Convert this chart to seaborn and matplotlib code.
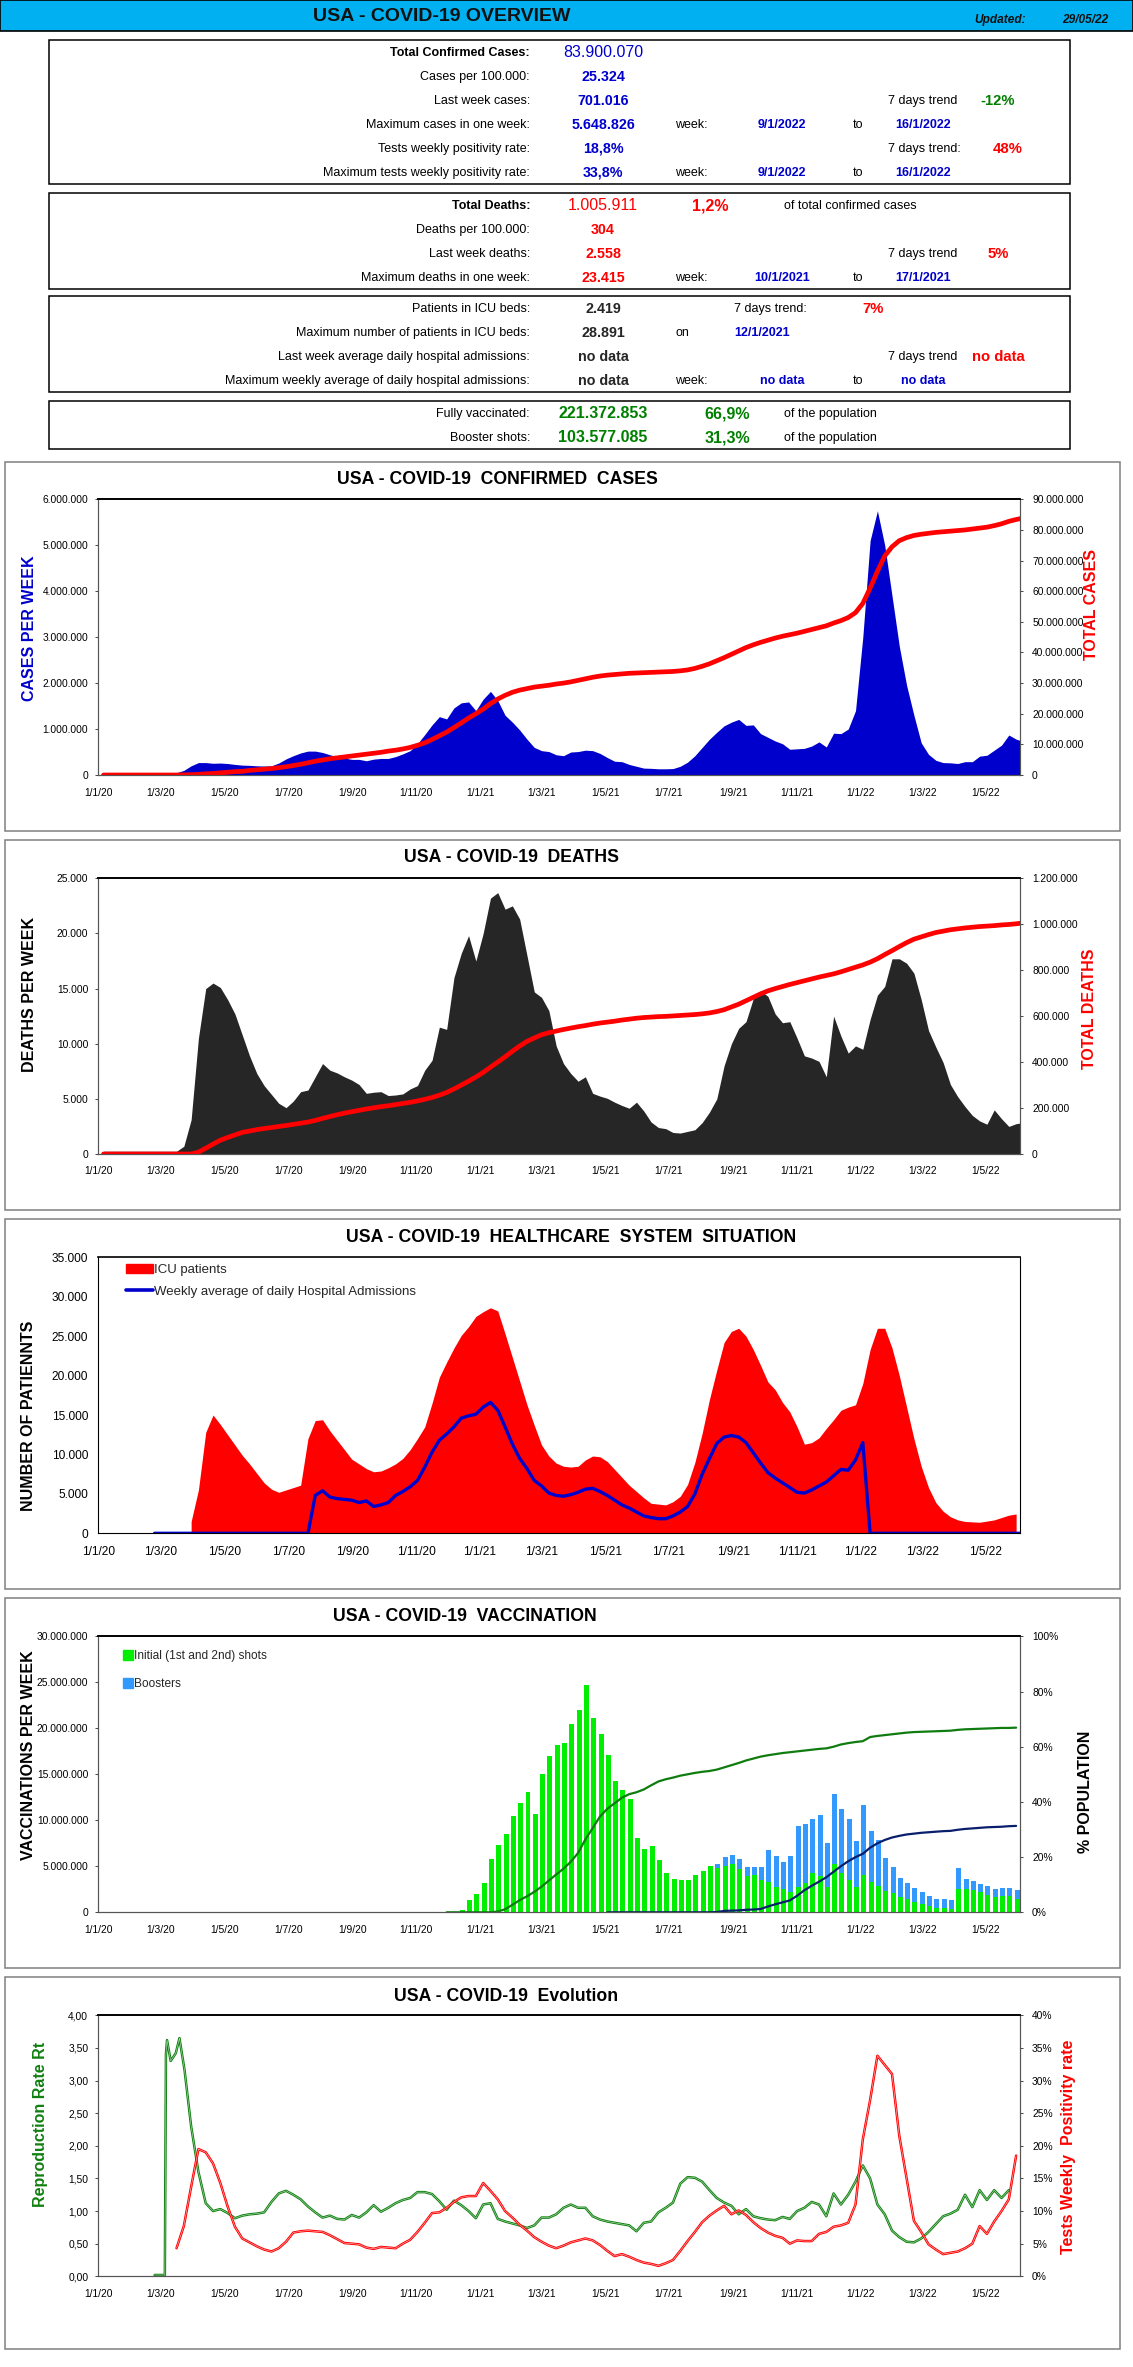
import numpy as np
import pandas as pd
import seaborn as sns
import matplotlib
matplotlib.use('Agg')
import matplotlib.pyplot as plt
import matplotlib.dates as mdates
from matplotlib.patches import Rectangle, Patch
from matplotlib.lines import Line2D

W, H = 1133, 2367

#### tick labels, same on every chart
tick_labels = ['1/1/20', '1/3/20', '1/5/20', '1/7/20', '1/9/20', '1/11/20', '1/1/21', '1/3/21', '1/5/21',
               '1/7/21', '1/9/21', '1/11/21', '1/1/22', '1/3/22', '1/5/22']

#### weekly values, first week 6 jan 2020
cases_k = [50, 50, 50, 50, 50, 50, 50, 50, 50, 50,
           50, 100, 200, 270, 270, 255, 260, 250, 230, 215,
           210, 200, 195, 200, 260, 350, 420, 480, 520, 520,
           490, 440, 400, 370, 340, 340, 310, 345, 360, 360,
           400, 460, 530, 680, 880, 1090, 1270, 1220, 1460, 1570,
           1590, 1400, 1650, 1820, 1620, 1300, 1150, 980, 780, 600,
           530, 510, 440, 420, 500, 510, 540, 530, 470, 380,
           300, 290, 230, 190, 150, 145, 135, 135, 140, 190,
           280, 420, 600, 780, 930, 1070, 1150, 1210, 1080, 1090,
           900, 820, 740, 680, 560, 570, 580, 630, 720, 610,
           910, 900, 1000, 1400, 3000, 5100, 5750, 5000, 3900, 2800,
           1950, 1300, 700, 450, 320, 270, 265, 250, 290, 290,
           410, 430, 540, 650, 870, 780, 730]
total_cases_m = [0, 0, 0, 0, 0, 0, 0, 0, 0, 0,
                 0, .05, .1, .2, .4, .5, .7, .9, 1.1, 1.2,
                 1.5, 1.7, 1.9, 2.1, 2.4, 2.7, 3.1, 3.5, 4.0, 4.5,
                 4.9, 5.3, 5.6, 5.9, 6.2, 6.5, 6.8, 7.1, 7.4, 7.8,
                 8.1, 8.5, 9.0, 9.7, 10.5, 11.6, 12.8, 14, 15.5, 17,
                 18.6, 20, 21.5, 23.3, 24.8, 26, 27, 27.7, 28.2, 28.7,
                 29, 29.3, 29.7, 30, 30.4, 30.9, 31.4, 31.9, 32.3, 32.6,
                 32.8, 33, 33.2, 33.3, 33.4, 33.5, 33.6, 33.7, 33.8, 34,
                 34.3, 34.8, 35.5, 36.3, 37.3, 38.3, 39.4, 40.5, 41.6, 42.5,
                 43.3, 44, 44.7, 45.3, 45.8, 46.3, 46.9, 47.5, 48.1, 48.7,
                 49.6, 50.4, 51.4, 53, 56, 61, 66.5, 71.5, 74.5, 76.5,
                 77.5, 78.2, 78.6, 78.9, 79.2, 79.4, 79.6, 79.8, 80, 80.3,
                 80.6, 80.9, 81.4, 82, 82.8, 83.4, 83.9]

deaths = [250, 250, 250, 250, 250, 250, 250, 250, 250, 250,
          250, 700, 3100, 10500, 15000, 15500, 15100, 14000, 12700, 10800,
          8900, 7300, 6200, 5400, 4600, 4200, 4800, 5650, 5800, 7000,
          8200, 7600, 7350, 7000, 6700, 6300, 5500, 5600, 5650, 5300,
          5350, 5450, 5900, 6200, 7600, 8500, 11500, 11300, 16000, 18200,
          19800, 17500, 20000, 23200, 23700, 22200, 22500, 21300, 18000, 14700,
          14200, 13000, 9800, 8200, 7300, 6600, 7000, 5500, 5250, 5050,
          4700, 4400, 4150, 4700, 3900, 2900, 2400, 2300, 1950, 1900,
          2050, 2200, 2850, 3800, 5000, 8000, 10000, 11400, 12000, 14100,
          14800, 14300, 12700, 11900, 12000, 10500, 8900, 8700, 8400, 7000,
          12500, 10700, 9150, 9800, 9500, 12200, 14400, 15200, 17700, 17700,
          17300, 16400, 14000, 11200, 9700, 8300, 6300, 5200, 4300, 3500,
          3000, 2700, 4000, 3200, 2500, 2750, 2850]
total_deaths_k = [0, 0, 0, 0, 0, 0, 0, 0, 0, 0,
                  0, 0, 0, 8, 25, 43, 60, 72, 83, 94,
                  100, 106, 111, 115, 120, 124, 129, 134, 139, 146,
                  155, 163, 171, 178, 184, 190, 196, 201, 206, 210,
                  215, 220, 225, 231, 238, 246, 256, 268, 283, 300,
                  317, 335, 355, 378, 400, 423, 447, 470, 490, 505,
                  519, 528, 535, 542, 548, 554, 559, 565, 570, 574,
                  578, 583, 587, 591, 594, 596, 598, 599, 601, 603,
                  605, 607, 610, 614, 620, 628, 640, 652, 667, 682,
                  697, 710, 720, 729, 738, 746, 754, 762, 770, 777,
                  784, 793, 803, 813, 823, 835, 850, 868, 885, 903,
                  920, 935, 945, 955, 964, 970, 976, 980, 984, 987,
                  990, 992, 994, 997, 999, 1002, 1006]

#### from week 12
icu_k = [1.5, 5.5, 12.8, 15, 13.8, 12.5, 11.2, 9.9,
         8.8, 7.6, 6.4, 5.6, 5.2, 5.5, 5.8, 6.1, 12, 14.3,
         14.4, 13, 11.8, 10.6, 9.4, 8.8, 8.2, 7.8, 7.9, 8.3,
         8.8, 9.5, 10.6, 12, 13.5, 16.5, 19.8, 21.7, 23.5, 25.1,
         26.2, 27.5, 28.1, 28.6, 28.2, 25.3, 22.3, 19.3, 16.3, 13.7,
         11.2, 9.8, 8.9, 8.5, 8.4, 8.5, 9.3, 9.8, 9.7, 9.1,
         8.1, 7.1, 6.1, 5.3, 4.5, 3.8, 3.7, 3.6, 4, 4.7,
         6.2, 9, 12.7, 17, 20.7, 24.2, 25.6, 26, 25, 23.3,
         21.3, 19.2, 18.2, 16.6, 15.4, 13.5, 11.3, 11.5, 12.1, 13.3,
         14.4, 15.6, 16, 16.3, 19, 23.3, 26, 26, 23.5, 20,
         16, 12, 8.5, 5.8, 3.9, 2.8, 2.1, 1.7, 1.5, 1.45,
         1.4, 1.55, 1.7, 2, 2.3, 2.45]
#### from week 7
hospital_k = [0, 0, 0, 0, 0, 0, 0, 0, 0, 0, 0, 0, 0, 0, 0, 0, 0, 0, 0, 0, 0, 0,
              4.8, 5.4, 4.6, 4.4, 4.3, 4.2, 3.9, 4.1, 3.4, 3.6, 3.9,
              4.8, 5.3, 5.9, 6.7, 8.4, 10.3, 11.8, 12.6, 13.5, 14.6,
              14.9, 15.1, 16, 16.6, 15.6, 13.5, 11.3, 9.5, 8.2, 6.7,
              6, 5.1, 4.8, 4.7, 4.9, 5.2, 5.6, 5.7, 5.3, 4.8,
              4.2, 3.6, 3.2, 2.7, 2.2, 2, 1.85, 1.85, 2.2, 2.7,
              3.4, 5, 7.5, 9.5, 11.4, 12.2, 12.4, 12.2, 11.5, 10.2,
              8.9, 7.7, 7, 6.4, 5.8, 5.2, 5.1, 5.5, 6, 6.5,
              7.3, 8.1, 8, 9.3, 11.5, 0, 0, 0, 0, 0,
              0, 0, 0, 0, 0, 0, 0, 0, 0, 0, 0, 0, 0, 0, 0, 0, 0, 0, 0, 0, 0]

#### from week 49
initial_m = [.25, 1.3, 2, 3.2, 5.8, 7.3, 8.5, 10.5, 11.85, 13.1, 10.7,
             15, 17, 18.2, 18.4, 20.5, 22, 24.7, 21.1, 19.4, 17.1,
             14.3, 13.3, 12.3, 8.1, 6.9, 7.2, 5.7, 4.3, 3.6, 3.5,
             3.5, 4.05, 4.5, 5, 4.85, 5, 5.25, 4.7, 4, 4.05,
             3.5, 3.3, 2.8, 2.5, 2.25, 2.7, 3.15, 4.25, 3.9, 2.8,
             5.3, 4.25, 3.5, 2.7, 4.05, 3.25, 2.9, 2.3, 2.05, 1.7,
             1.45, 1.1, .9, .7, .5, .5, .35, 2.5, 2.5, 2.45,
             2.2, 1.9, 1.65, 1.8, 1.8, 1.45]
#### initial plus boosters, from week 84
with_boosters_m = [5.25, 6, 6.2, 5.8, 4.9, 4.9, 4.9, 6.8, 6.1, 5.5, 6.1,
                   9.4, 9.6, 10.15, 10.6, 7.5, 12.85, 11.2, 10.15, 7.75, 11.65,
                   8.85, 7.85, 5.9, 4.9, 3.7, 3.2, 2.65, 2.2, 1.8, 1.45,
                   1.45, 1.35, 4.8, 3.6, 3.4, 3.1, 2.85, 2.55, 2.65, 2.65, 2.4]
#### from week 47
fully_pct = [0, 0, 0, 0, 0, 0, 0, .3, 1.1, 2.7, 4.4, 5.8, 7.4,
             9.3, 11.5, 13.7, 15.8, 18.3, 21.5, 26.4, 30.5, 34.7, 37.5,
             39.5, 41.5, 42.8, 43.5, 44.5, 46, 47.4, 48.2, 48.8, 49.5,
             50, 50.5, 50.9, 51.2, 51.7, 52.5, 53.3, 54.1, 55, 55.7,
             56.4, 56.9, 57.3, 57.7, 58, 58.3, 58.6, 58.9, 59.2, 59.4,
             60, 60.8, 61.3, 61.7, 62, 63.5, 63.9, 64.2, 64.5, 64.8,
             65.1, 65.3, 65.4, 65.5, 65.6, 65.7, 65.8, 66.1, 66.3, 66.4,
             66.5, 66.6, 66.7, 66.8, 66.8, 66.9]
#### from week 69
booster_pct = [0, 0, 0, 0, 0, 0, 0, 0, 0, 0, 0, 0, 0, 0, 0,
               .1, .5, .6, .7, .9, 1, 1.2, 2.1, 2.9, 3.6, 4.3,
               6, 8, 9.6, 11.1, 12.7, 14.7, 16.7, 18.5, 20, 21.2,
               23.4, 25, 26.2, 27.1, 27.7, 28.2, 28.5, 28.8, 29, 29.2,
               29.4, 29.5, 29.9, 30.2, 30.4, 30.6, 30.8, 30.9, 31, 31.2, 31.3]

#### Rt jumps inside a week at the start so those have their own week numbers
rt_head_week = [7, 8.4, 8.55, 8.7, 9.2, 9.9, 10.4, 11.1]
rt_head = [.02, .02, 3.4, 3.62, 3.3, 3.42, 3.65, 3.16]
#### from week 12
rt = [2.3, 1.6, 1.12, 1, 1.03, .97, .89, .93,
      .95, .96, .98, 1.14, 1.27, 1.31, 1.25, 1.18, 1.07, .98,
      .9, .93, .88, .87, .94, .9, .98, 1.09, .99, 1.05,
      1.12, 1.17, 1.2, 1.29, 1.29, 1.26, 1.15, 1.02, 1.16, 1.09,
      1, .89, 1.1, 1.12, .88, .84, .81, .78, .74, .78,
      .9, .9, .95, 1.05, 1.1, 1.05, 1.05, .92, .87, .84,
      .82, .8, .78, .69, .82, .84, .98, 1.05, 1.13, 1.42,
      1.52, 1.51, 1.45, 1.32, 1.2, 1.13, 1.08, .95, 1.03, .92,
      .89, .87, .86, .91, .88, 1, 1.05, 1.14, 1.1, .92,
      1.27, 1.1, 1.25, 1.45, 1.7, 1.5, 1.1, .95, .7, .6,
      .53, .52, .58, .68, .8, .92, .96, 1.02, 1.25, 1.06,
      1.32, 1.17, 1.32, 1.2, 1.32]
#### from week 10
positivity = [4.3, 7.7, 13.7, 19.5, 19, 17.3, 14.3, 10.7, 7.6, 5.8,
              5.2, 4.6, 4.1, 3.8, 4.3, 5.3, 6.7, 6.9, 7, 6.9,
              6.8, 6.3, 5.7, 5.1, 5, 4.9, 4.4, 4.2, 4.5, 4.4,
              4.3, 5, 5.6, 6.8, 8.2, 9.7, 9.8, 10.5, 11.4, 12.1,
              12.3, 12.3, 14.3, 13.1, 11.8, 10, 9, 7.9, 7, 6,
              5.3, 4.7, 4.3, 4.7, 5.2, 5.5, 5.8, 5.5, 4.8, 3.9,
              3.1, 3.4, 3, 2.5, 2.1, 1.9, 1.6, 2, 2.5, 3.9,
              5.4, 6.8, 8.3, 9.3, 10.1, 10.8, 9.5, 10.1, 9.4, 8.3,
              7.4, 6.7, 6.2, 5.9, 5, 5.5, 5.4, 5.4, 6.5, 6.8,
              7.6, 7.8, 8.2, 11, 21, 27, 33.8, 32.4, 31, 21.5,
              15, 8.5, 6.8, 4.9, 4.1, 3.4, 3.6, 3.8, 4.3, 5,
              7.7, 6.5, 8.4, 10, 11.8, 18.5]

#### summary table, (text, x px, y px, align, colour, size, bold)
BLUE = '#0000CC'
RED = '#FF0000'
GREEN = '#008000'
BLK = '#000000'
LAB = 9
VAL = 10.3
BIG = 11.5
DAT = 9
TRD = 10.7
table_rows = [
    ('Total Confirmed Cases:', 530, 52.7, 'right', BLK, LAB, True),
    ('83.900.070', 603, 52.7, 'center', BLUE, BIG, False),
    ('Cases per 100.000:', 530, 76.7, 'right', BLK, LAB, False),
    ('25.324', 603, 76.7, 'center', BLUE, VAL, True),
    ('Last week cases:', 530, 100.7, 'right', BLK, LAB, False),
    ('701.016', 603, 100.7, 'center', BLUE, VAL, True),
    ('7 days trend', 888, 100.7, 'left', BLK, LAB, False),
    ('-12%', 998, 100.7, 'center', GREEN, TRD, True),
    ('Maximum cases in one week:', 530, 124.7, 'right', BLK, LAB, False),
    ('5.648.826', 603, 124.7, 'center', BLUE, VAL, True),
    ('week:', 675, 124.7, 'left', BLK, LAB, False),
    ('9/1/2022', 782, 124.7, 'center', BLUE, DAT, True),
    ('to', 853, 124.7, 'left', BLK, LAB, False),
    ('16/1/2022', 923, 124.7, 'center', BLUE, DAT, True),
    ('Tests weekly positivity rate:', 530, 148.7, 'right', BLK, LAB, False),
    ('18,8%', 603, 148.7, 'center', BLUE, VAL, True),
    ('7 days trend:', 888, 148.7, 'left', BLK, LAB, False),
    ('48%', 1008, 148.7, 'center', RED, TRD, True),
    ('Maximum tests weekly positivity rate:', 530, 172.7, 'right', BLK, LAB, False),
    ('33,8%', 603, 172.7, 'center', BLUE, VAL, True),
    ('week:', 675, 172.7, 'left', BLK, LAB, False),
    ('9/1/2022', 782, 172.7, 'center', BLUE, DAT, True),
    ('to', 853, 172.7, 'left', BLK, LAB, False),
    ('16/1/2022', 923, 172.7, 'center', BLUE, DAT, True),
    ('Total Deaths:', 530, 206, 'right', BLK, LAB, True),
    ('1.005.911', 603, 206, 'center', RED, BIG, False),
    ('1,2%', 710, 206, 'center', RED, BIG, True),
    ('of total confirmed cases', 784, 206, 'left', BLK, LAB, False),
    ('Deaths per 100.000:', 530, 229.7, 'right', BLK, LAB, False),
    ('304', 603, 229.7, 'center', RED, VAL, True),
    ('Last week deaths:', 530, 254, 'right', BLK, LAB, False),
    ('2.558', 603, 254, 'center', RED, VAL, True),
    ('7 days trend', 888, 254, 'left', BLK, LAB, False),
    ('5%', 998, 254, 'center', RED, TRD, True),
    ('Maximum deaths in one week:', 530, 277.7, 'right', BLK, LAB, False),
    ('23.415', 603, 277.7, 'center', RED, VAL, True),
    ('week:', 675, 277.7, 'left', BLK, LAB, False),
    ('10/1/2021', 782, 277.7, 'center', BLUE, DAT, True),
    ('to', 853, 277.7, 'left', BLK, LAB, False),
    ('17/1/2021', 923, 277.7, 'center', BLUE, DAT, True),
    ('Patients in ICU beds:', 530, 308.7, 'right', BLK, LAB, False),
    ('2.419', 603, 308.7, 'center', '#262626', VAL, True),
    ('7 days trend:', 734, 308.7, 'left', BLK, LAB, False),
    ('7%', 873, 308.7, 'center', RED, TRD, True),
    ('Maximum number of patients in ICU beds:', 530, 332.7, 'right', BLK, LAB, False),
    ('28.891', 603, 332.7, 'center', '#262626', VAL, True),
    ('on', 675, 332.7, 'left', BLK, LAB, False),
    ('12/1/2021', 762, 332.7, 'center', BLUE, DAT, True),
    ('Last week average daily hospital admissions:', 530, 357, 'right', BLK, LAB, False),
    ('no data', 603, 357, 'center', '#262626', VAL, True),
    ('7 days trend', 888, 357, 'left', BLK, LAB, False),
    ('no data', 998, 357, 'center', RED, TRD, True),
    ('Maximum weekly average of daily hospital admissions:', 530, 381, 'right', BLK, LAB, False),
    ('no data', 603, 381, 'center', '#262626', VAL, True),
    ('week:', 675, 381, 'left', BLK, LAB, False),
    ('no data', 782, 381, 'center', BLUE, DAT, True),
    ('to', 853, 381, 'left', BLK, LAB, False),
    ('no data', 923, 381, 'center', BLUE, DAT, True),
    ('Fully vaccinated:', 530, 413.7, 'right', BLK, LAB, False),
    ('221.372.853', 603, 413.7, 'center', GREEN, BIG, True),
    ('66,9%', 727, 413.7, 'center', GREEN, BIG, True),
    ('of the population', 784, 413.7, 'left', BLK, LAB, False),
    ('Booster shots:', 530, 437.7, 'right', BLK, LAB, False),
    ('103.577.085', 603, 437.7, 'center', GREEN, BIG, True),
    ('31,3%', 727, 437.7, 'center', GREEN, BIG, True),
    ('of the population', 784, 437.7, 'left', BLK, LAB, False),
]

sns.set_theme(style='white')
plt.rcParams['font.family'] = ['Liberation Sans', 'DejaVu Sans']
plt.rcParams['axes.unicode_minus'] = False

fig = plt.figure(figsize=(W / 100, H / 100), dpi=100, facecolor='white')

tick_pos = mdates.date2num(pd.to_datetime(tick_labels, format='%d/%m/%y'))
weeks = mdates.date2num(pd.date_range('2020-01-06', periods=135, freq='7D'))
xlim = mdates.date2num(pd.to_datetime(['2020-01-01', '2022-06-03']))


def wk(start, vals):
    """ x positions for a series that starts at week number start """
    return weeks[start:start + len(vals)]


def put_text(x, y, s, **kw):
    """ text at pixel position of the picture """
    kw.setdefault('va', 'center')
    return fig.text(x / W, 1 - y / H, s, **kw)


def side_label(x, y, s, color):
    put_text(x, y, s, rotation=90, ha='center', fontsize=11.5, fontweight='bold', color=color)


def box(x0, y0, x1, y1, edge, lw, face='none', z=0):
    fig.add_artist(Rectangle((x0 / W, 1 - y1 / H), (x1 - x0) / W, (y1 - y0) / H, transform=fig.transFigure,
                             facecolor=face, edgecolor=edge, linewidth=lw, zorder=z))


def dots(v):
    return f'{v:,.0f}'.replace(',', '.')


def chart(top, bottom, left_ticks, right_ticks=None, left_fmt=dots, right_fmt=dots, size=7.4):
    """ axes at pixel position, returns left axes and twin axes """
    ax = fig.add_axes([98.3 / W, 1 - bottom / H, 922 / W, (bottom - top) / H])
    ax.set_xlim(*xlim)
    ax.set_ylim(left_ticks[0], left_ticks[-1])
    ax2 = None
    axes = [ax]
    if right_ticks is not None:
        ax2 = ax.twinx()
        ax2.set_ylim(right_ticks[0], right_ticks[-1])
        ax2.set_yticks(right_ticks)
        ax2.set_yticklabels([right_fmt(v) for v in right_ticks], fontsize=size, color='black')
        ax2.tick_params(axis='y', length=2.5, width=.7, pad=6, color='#444444')
        axes.append(ax2)
    ax.set_xticks(tick_pos)
    ax.set_xticklabels(tick_labels, fontsize=size, color='black')
    ax.set_yticks(left_ticks)
    ax.set_yticklabels([left_fmt(v) for v in left_ticks], fontsize=size, color='black')
    ax.tick_params(axis='x', length=3, width=.7, pad=6, color='#444444')
    ax.tick_params(axis='y', length=2.5, width=.7, pad=4.7, color='#444444')
    ax.grid(False)
    for a in axes:
        a.set_xlabel('')
        a.set_ylabel('')
        for side in ['left', 'bottom', 'right']:
            a.spines[side].set_color('#555555')
            a.spines[side].set_linewidth(.8)
        a.spines['top'].set_color('black')
        a.spines['top'].set_linewidth(1.2)
    return ax, ax2


def line(ax, start, y, color, lw, x=None):
    x = wk(start, y) if x is None else x
    sns.lineplot(x=x, y=np.asarray(y)[:len(x)], ax=ax, color=color, linewidth=lw, errorbar=None, estimator=None,
                 sort=False, legend=False)
    ax.set_xlabel('')
    ax.set_ylabel('')


def area(ax, start, y, color):
    x = wk(start, y)
    ax.fill_between(x, np.asarray(y)[:len(x)], color=color, linewidth=0)


#### header and table
box(0, 0, W, 31, 'black', 1.2, face='#00B0F0')
put_text(442, 16.7, 'USA - COVID-19 OVERVIEW', ha='center', fontsize=14, fontweight='bold', color='#111111')
put_text(974, 20, 'Updated:', ha='left', fontsize=8.6, fontweight='bold', fontstyle='italic', color='#111111')
put_text(1108, 20, '29/05/22', ha='right', fontsize=8.6, fontweight='bold', fontstyle='italic', color='#111111')
for y0, y1 in [(40, 184), (193, 289), (296, 392), (401, 449)]:
    box(49, y0, 1070, y1, 'black', 1.1)
for txt, x, y, ha, col, fs, bold in table_rows:
    put_text(x, y, txt, ha=ha, color=col, fontsize=fs, fontweight='bold' if bold else 'normal')

#### grey frames of the charts
for y0, y1 in [(461.7, 831), (840, 1210), (1219, 1589), (1598, 1968), (1977, 2349)]:
    box(5, y0, 1120, y1, '#808080', 1.1)

titles = [('USA - COVID-19  CONFIRMED  CASES', 497, 479.3), ('USA - COVID-19  DEATHS', 512, 858),
          ('USA - COVID-19  HEALTHCARE  SYSTEM  SITUATION', 571, 1237), ('USA - COVID-19  VACCINATION', 465, 1616.7),
          ('USA - COVID-19  Evolution', 506, 1996.7)]
for txt, x, y in titles:
    put_text(x, y, txt, ha='center', fontsize=12.7, fontweight='bold', color='black')

#### cases
ax, ax2 = chart(499.3, 775, list(range(0, 6000001, 1000000)), list(range(0, 90000001, 10000000)))
area(ax, 0, np.array(cases_k) * 1000, '#0000CC')
line(ax2, 0, np.array(total_cases_m) * 1e6, '#FF0000', 3.4)
side_label(30, 628, 'CASES PER WEEK', '#0000CC')
side_label(1092, 604.7, 'TOTAL CASES', '#FF0000')

#### deaths
ax, ax2 = chart(878.3, 1154, list(range(0, 25001, 5000)), list(range(0, 1200001, 200000)))
area(ax, 0, deaths, '#262626')
line(ax2, 0, np.array(total_deaths_k) * 1000, '#FF0000', 3.4)
side_label(30, 994.5, 'DEATHS PER WEEK', 'black')
side_label(1089, 1009, 'TOTAL DEATHS', '#FF0000')

#### healthcare
ax, _ = chart(1257.3, 1533.3, list(range(0, 35001, 5000)), size=8.6)
area(ax, 12, np.array(icu_k) * 1000, '#FF0000')
line(ax, 7, np.array(hospital_k) * 1000, '#0000CC', 2.4)
for side in ['left', 'bottom', 'right', 'top']:
    ax.spines[side].set_color('black')
ax.legend(handles=[Patch(color='#FF0000', label='ICU patients'),
                   Line2D([], [], color='#0000CC', lw=2.6, label='Weekly average of daily Hospital Admissions')],
          loc='upper left', bbox_to_anchor=(.03, .975), frameon=False, fontsize=9.5, labelspacing=.67,
          handlelength=2.05, handletextpad=.1, borderpad=0, borderaxespad=0)
side_label(29, 1416, 'NUMBER OF PATIENNTS', 'black')

#### vaccination, bars drawn with the total behind and initial in front
ax, ax2 = chart(1636.3, 1912.3, list(range(0, 30000001, 5000000)), [0, 20, 40, 60, 80, 100],
                right_fmt=lambda v: f'{v:.0f}%')
bar_x = weeks + 1
sns.barplot(x=bar_x[84:84 + len(with_boosters_m)], y=np.array(with_boosters_m) * 1e6, ax=ax, color='#3399FF',
            native_scale=True, width=.68, saturation=1, linewidth=0, errorbar=None)
sns.barplot(x=bar_x[49:49 + len(initial_m)], y=np.array(initial_m) * 1e6, ax=ax, color='#00EE00',
            native_scale=True, width=.68, saturation=1, linewidth=0, errorbar=None)
ax.set_xlim(*xlim)
ax.set_xticks(tick_pos)
ax.set_xticklabels(tick_labels, fontsize=7.4, color='black')
ax.set_xlabel('')
ax.set_ylabel('')
line(ax2, 47, fully_pct, '#107C10', 1.6)
line(ax2, 69, booster_pct, '#0A1F6B', 1.6)
ax.legend(handles=[Patch(color='#00EE00', label='Initial (1st and 2nd) shots'), Patch(color='#3399FF', label='Boosters')],
          loc='upper left', bbox_to_anchor=(.0268, .95), frameon=False, fontsize=8.6, labelspacing=1.35,
          handlelength=.84, handleheight=.9, handletextpad=.05, borderpad=0, borderaxespad=0)
side_label(29, 1755, 'VACCINATIONS PER WEEK', 'black')
side_label(1086, 1792, '% POPULATION', 'black')

#### evolution
ax, ax2 = chart(2015.3, 2276.3, [0, .5, 1, 1.5, 2, 2.5, 3, 3.5, 4], [0, 5, 10, 15, 20, 25, 30, 35, 40],
                left_fmt=lambda v: f'{v:.2f}'.replace('.', ','), right_fmt=lambda v: f'{v:.0f}%')
rt_x = np.r_[weeks[0] + np.array(rt_head_week) * 7, wk(12, rt)]
rt_y = np.r_[rt_head, rt]
line(ax, 0, rt_y, '#108010', 1.8, x=rt_x)
line(ax, 0, rt_y, '#BFE3BF', .4, x=rt_x)
line(ax2, 10, positivity, '#FF0000', 1.8)
line(ax2, 10, positivity, '#FFC8C8', .4)
side_label(41, 2124, 'Reproduction Rate Rt', '#108010')
side_label(1069, 2147, 'Tests Weekly  Positivity rate', '#FF0000')

fig.savefig('out.png', dpi=100)
